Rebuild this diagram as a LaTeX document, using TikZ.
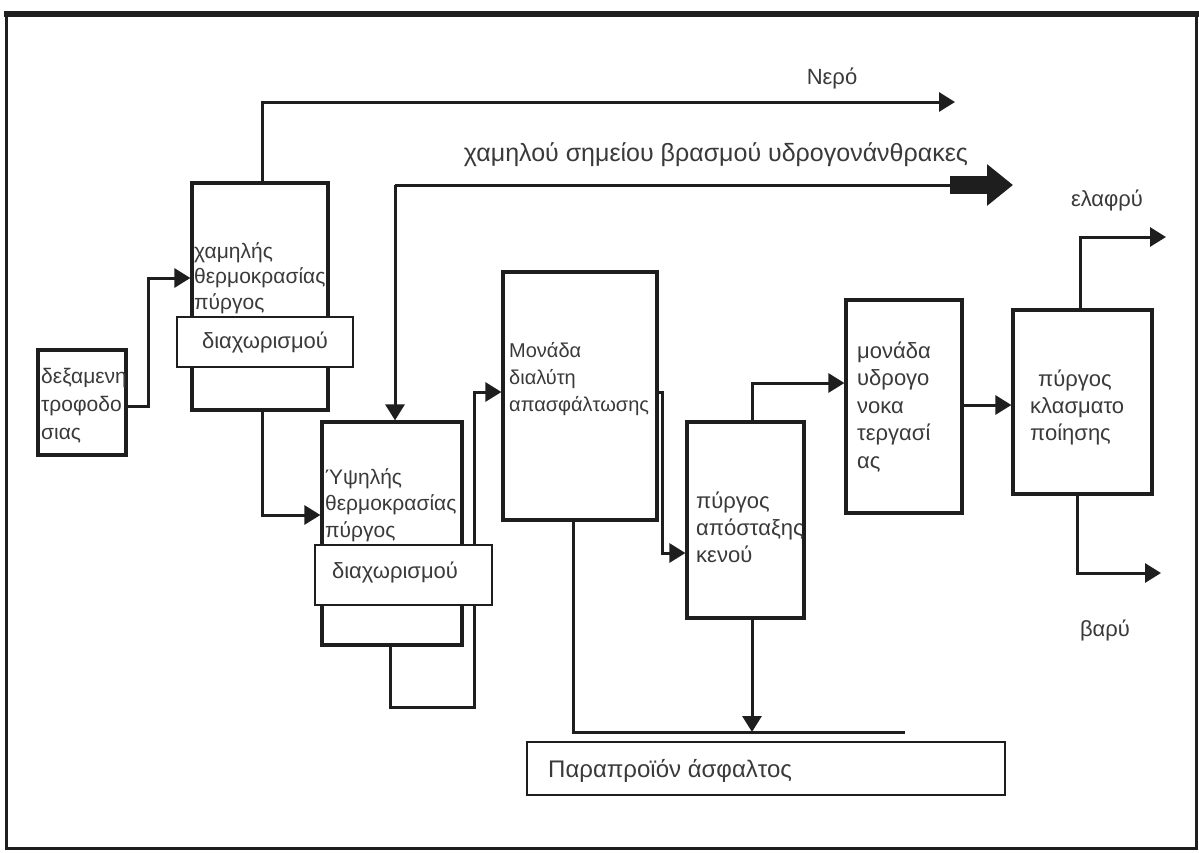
\documentclass[tikz,border=0pt]{standalone}
\usepackage{fontspec}
\setmainfont{Liberation Sans}
\usetikzlibrary{arrows.meta}
\definecolor{ink}{HTML}{1E1E1E}
\definecolor{txt}{HTML}{3A3A3A}
\begin{document}
\begin{tikzpicture}[x=1pt,y=-1pt,
  box/.style={draw=ink, line width=3.2pt, inner sep=0pt, fill=white},
  sepbox/.style={draw=ink, line width=1.6pt, inner sep=0pt, fill=white},
  conn/.style={draw=ink, line width=3pt},
  arr/.style={conn, -{Triangle[length=16pt,width=19pt]}},
  lbl/.style={text=txt, inner sep=0pt, font=\fontsize{22}{25}\selectfont},
  blk/.style={text=txt, inner sep=0pt, align=left, anchor=west}]
\useasboundingbox (0,0) rectangle (1199,852);
\fill[white] (0,0) rectangle (1199,852);
% frame
\draw[ink, line width=3pt] (6,14) rectangle (1196,848);
\draw[ink, line width=6pt] (4,14) -- (1199,14);

% main boxes
\node[box, minimum width=88, minimum height=105] (feed) at (82,402.5) {};
\node[box, minimum width=136, minimum height=227] (low) at (260,296.5) {};
\node[box, minimum width=140, minimum height=223] (high) at (392,533.5) {};
\node[box, minimum width=154, minimum height=248] (solv) at (580,396) {};
\node[box, minimum width=117, minimum height=196] (vac) at (745.5,520) {};
\node[box, minimum width=116, minimum height=213] (hydro) at (904,406.5) {};
\node[box, minimum width=139, minimum height=184] (frac) at (1082.5,402) {};
\node[sepbox, minimum width=478, minimum height=53] (asph) at (766,768.5) {};

% coordinates
\coordinate (water) at (955,102);
\coordinate (lbcorner) at (395,185);
\coordinate (lbend) at (950,185);
\coordinate (lbtip) at (1013,185);
\coordinate (bottomend) at (905,732);
\coordinate (light) at (1166,237);
\coordinate (heavy) at (1161,573);

% connectors
\draw[arr] (feed.east |- 0,406) -- (148,406) -- (148,278) -- (low.west |- 0,278);
\draw[arr] (low.north -| 262,0) -- (262,102) -- (water);
\draw[arr] (low.south -| 262,0) -- (262,515) -- (high.west |- 0,515);
\draw[conn] (lbcorner) -- (lbend);
\draw[ink, line width=18pt, -{Triangle[length=26pt,width=40pt]}] (lbend) -- (lbtip);
\draw[arr] (lbcorner) -- (high.north -| lbcorner);
\draw[arr] (high.south -| 390,0) -- (390,707) -- (474,707) -- (474,392) -- (solv.west |- 0,392);
\draw[arr] (solv.east |- 0,392) -- (662,392) -- (662,553) -- (vac.west |- 0,553);
\draw[conn] (solv.south -| 573,0) -- (573,732) -- (bottomend);
\draw[arr] (vac.south -| 752,0) -- (752,732);
\draw[arr] (vac.north -| 752,0) -- (752,383) -- (hydro.west |- 0,383);
\draw[arr] (hydro.east |- 0,405) -- (frac.west |- 0,405);
\draw[arr] (frac.north -| 1080,0) -- (1080,237) -- (light);
\draw[arr] (frac.south -| 1077,0) -- (1077,573) -- (heavy);

% separator overlays
\node[sepbox, minimum width=176, minimum height=50] (lowsep) at (265,342) {};
\node[sepbox, minimum width=177, minimum height=60] (highsep) at (403.5,575) {};

% texts
\node[blk, font=\fontsize{21}{28}\selectfont] (feedtxt) at (41,406) {δεξαμενη\\τροφοδο\\σιας};
\node[blk, font=\fontsize{21}{25.5}\selectfont] (lowtxt) at (194,278) {χαμηλής\\θερμοκρασίας\\πύργος};
\node[lbl] (lowseptxt) at (265,342) {διαχωρισμού};
\node[blk, font=\fontsize{21}{26.5}\selectfont] (hightxt) at (325,505) {Ύψηλής\\θερμοκρασίας\\πύργος};
\node[lbl] (highseptxt) at (395,572) {διαχωρισμού};
\node[blk, font=\fontsize{20}{27}\selectfont] (solvtxt) at (509,379) {Μονάδα\\διαλύτη\\απασφάλτωσης};
\node[blk, font=\fontsize{22}{27}\selectfont] (vactxt) at (696,527) {πύργος\\απόσταξης\\κενού};
\node[blk, font=\fontsize{22}{27.5}\selectfont] (hydrotxt) at (857,407) {μονάδα\\υδρογο\\νοκα\\τεργασί\\ας};
\node[blk, font=\fontsize{22}{27}\selectfont] (fractxt) at (1030,407) {\hspace*{8pt}πύργος\\κλασματο\\ποίησης};
\node[lbl, font=\fontsize{22}{25}\selectfont] (watertxt) at (832,78) {Νερό};
\node[lbl, font=\fontsize{25}{28}\selectfont] (lbtxt) at (716,155) {χαμηλού σημείου βρασμού υδρογονάνθρακες};
\node[lbl] (lighttxt) at (1107,200) {ελαφρύ};
\node[lbl] (heavytxt) at (1105,630) {βαρύ};
\node[lbl, anchor=west, font=\fontsize{24}{28}\selectfont] (asphtxt) at (548,771) {Παραπροϊόν άσφαλτος};
\end{tikzpicture}
\end{document}
